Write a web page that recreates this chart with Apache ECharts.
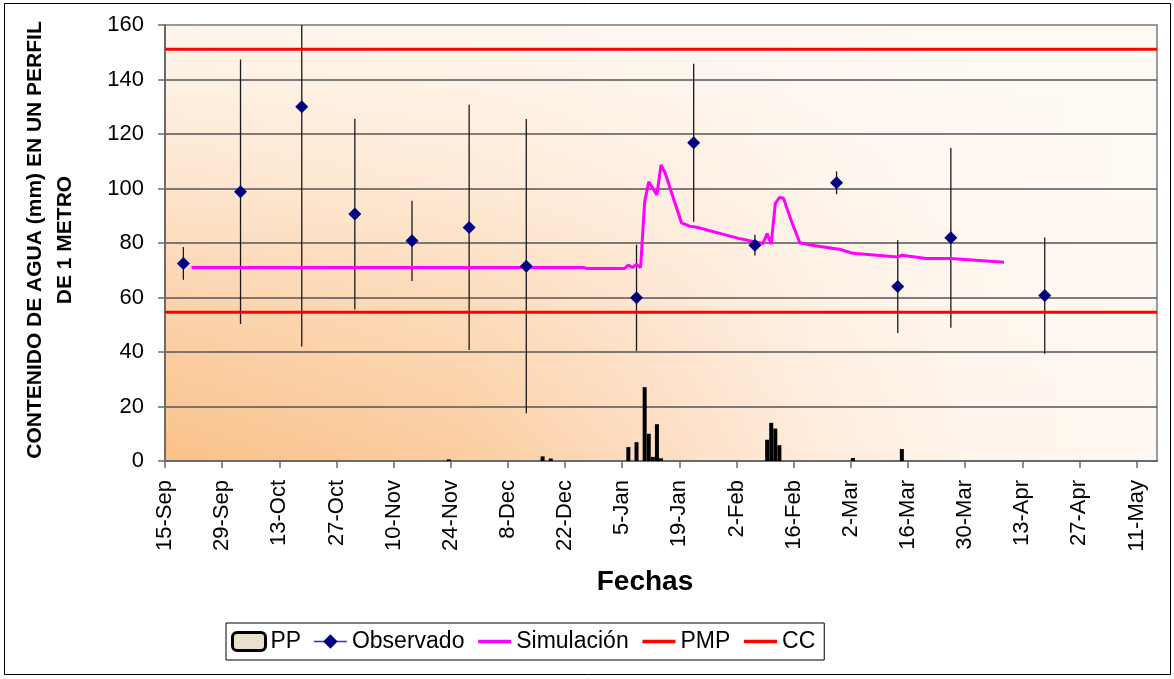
<!DOCTYPE html>
<html>
<head>
<meta charset="utf-8">
<script src="https://cdn.jsdelivr.net/npm/echarts@6/dist/echarts.min.js"></script>
<style>
  html, body { margin: 0; padding: 0; background: #fff; }
  #chart { width: 1174px; height: 679px; }
</style>
</head>
<body>
<div id="chart"></div>
<script>
// ---------------- DATA ----------------
const axisStart = '2006-09-15';
const axisEnd = '2007-05-16';
const tickStepDays = 14;
const tickLabels = ['15-Sep','29-Sep','13-Oct','27-Oct','10-Nov','24-Nov','8-Dec','22-Dec','5-Jan','19-Jan','2-Feb','16-Feb','2-Mar','16-Mar','30-Mar','13-Apr','27-Apr','11-May'];
const yTicks = [0, 20, 40, 60, 80, 100, 120, 140, 160];

const ppDates = ['2006-11-23','2006-12-16','2006-12-18','2007-01-06','2007-01-08','2007-01-10','2007-01-11','2007-01-12','2007-01-13','2007-01-14','2007-02-09','2007-02-10','2007-02-11','2007-02-12','2007-03-02','2007-03-14'];
const ppValues = [0.6, 1.7, 0.9, 5.1, 6.9, 27.1, 10.0, 1.5, 13.5, 1.0, 7.8, 14.0, 11.9, 5.8, 1.1, 4.4];

const obsDates = ['2006-09-19','2006-10-03','2006-10-18','2006-10-31','2006-11-14','2006-11-28','2006-12-12','2007-01-08','2007-01-22','2007-02-06','2007-02-26','2007-03-13','2007-03-26','2007-04-18'];
const obsValues = [72.5, 98.8, 130.0, 90.6, 80.8, 85.7, 71.5, 59.9, 116.8, 79.2, 102.1, 64.0, 81.9, 60.7];
const obsError = [6.0, 48.5, 88.0, 35.0, 14.7, 45.0, 54.0, 19.5, 29.0, 3.8, 4.2, 17.0, 33.0, 21.3];

const simDates = ['2006-09-21','2006-12-26','2006-12-27','2007-01-05','2007-01-06','2007-01-07','2007-01-08','2007-01-09','2007-01-10','2007-01-11','2007-01-13','2007-01-14','2007-01-15','2007-01-19','2007-01-21','2007-01-23','2007-01-30','2007-02-02','2007-02-08','2007-02-09','2007-02-10','2007-02-11','2007-02-12','2007-02-13','2007-02-15','2007-02-17','2007-02-20','2007-02-27','2007-03-02','2007-03-13','2007-03-14','2007-03-20','2007-03-26','2007-04-01','2007-04-08'];
const simValues = [71.0, 71.0, 70.6, 70.6, 71.9, 71.0, 72.1, 71.0, 95.1, 102.5, 97.6, 108.6, 105.8, 87.4, 86.2, 85.7, 82.9, 81.7, 79.8, 83.5, 79.6, 94.5, 96.7, 96.4, 87.8, 80.1, 79.2, 77.6, 76.2, 74.9, 75.5, 74.3, 74.3, 73.7, 72.9];

const pmpValue = 54.6;
const ccValue = 151.1;

// ---------------- HELPERS ----------------
function dayOf(s) {
  const a = s.split('-').map(Number);
  const b = axisStart.split('-').map(Number);
  return (Date.UTC(a[0], a[1] - 1, a[2]) - Date.UTC(b[0], b[1] - 1, b[2])) / 86400000;
}
const DAY_CENTER = 0.5; // each day's mark sits in the middle of its day
const xOf = d => dayOf(d) + DAY_CENTER;
const xMax = dayOf(axisEnd);
const tickValues = tickLabels.map((_, i) => i * tickStepDays);

const FONT = '"Liberation Sans", Arial, Helvetica, sans-serif';
const GRID = { left: 165, top: 25, right: 17, bottom: 218 };
const W = 1174, H = 679;
const PW = W - GRID.left - GRID.right, PH = H - GRID.top - GRID.bottom;

const chart = echarts.init(document.getElementById('chart'), null, { renderer: 'canvas' });

const option = {
  animation: false,
  backgroundColor: '#ffffff',
  textStyle: { fontFamily: FONT },
  grid: { left: GRID.left, top: GRID.top, right: GRID.right, bottom: GRID.bottom, show: true, borderColor: '#9a9a9a', borderWidth: 2, backgroundColor: 'transparent' },
  graphic: [
    { type: 'rect', z: -10, silent: true, shape: { x: GRID.left, y: GRID.top, width: PW, height: PH },
      style: { fill: new echarts.graphic.LinearGradient(0, 0, 1, 0, [
        { offset: 0, color: '#F9C18A' },
        { offset: 0.3, color: '#FBCDA0' },
        { offset: 0.5, color: '#FDDDC2' },
        { offset: 0.65, color: '#FEEBDB' },
        { offset: 0.8, color: '#FFF4EA' },
        { offset: 1, color: '#FFF8F2' }
      ]) } },
    { type: 'rect', z: -9, silent: true, shape: { x: GRID.left, y: GRID.top, width: PW, height: PH },
      style: { fill: new echarts.graphic.LinearGradient(0, 1, 0, 0, [
        { offset: 0, color: 'rgba(255,250,245,0)' },
        { offset: 0.35, color: 'rgba(255,250,245,0.3)' },
        { offset: 0.65, color: 'rgba(255,250,245,0.65)' },
        { offset: 1, color: 'rgba(255,250,245,0.92)' }
      ]) } },
    { type: 'rect', z: 100, silent: true, shape: { x: 4.5, y: 3.5, width: 1166, height: 671 },
      style: { fill: 'none', stroke: '#000', lineWidth: 1 } },
    { type: 'text', z: 100, silent: true, x: 50, y: 240, rotation: Math.PI / 2,
      style: { text: 'CONTENIDO DE AGUA (mm) EN UN PERFIL\nDE 1 METRO', font: 'bold 21px ' + FONT, fill: '#000',
               textAlign: 'center', textVerticalAlign: 'middle', lineHeight: 30 } },
    { type: 'text', z: 100, silent: true, x: 645, y: 582,
      style: { text: 'Fechas', font: 'bold 28px ' + FONT, fill: '#000', textAlign: 'center', textVerticalAlign: 'middle' } }
  ],
  legend: {
    left: 226, top: 623, orient: 'horizontal',
    itemWidth: 33, itemHeight: 18, itemGap: 12,
    padding: [7, 9, 7, 5],
    borderColor: '#000', borderWidth: 1, backgroundColor: '#fff',
    textStyle: { fontFamily: FONT, fontSize: 23, color: '#000' },
    data: [
      { name: 'PP', icon: 'roundRect', itemStyle: { color: '#E9E0D0', borderColor: '#000', borderWidth: 3 } },
      { name: 'Observado', itemStyle: { color: '#000080' }, lineStyle: { color: '#3333AA', width: 1.5, opacity: 1 } },
      { name: 'Simulación', itemStyle: { opacity: 0 }, lineStyle: { width: 3.5 } },
      { name: 'PMP', itemStyle: { opacity: 0 }, lineStyle: { width: 3.5 } },
      { name: 'CC', itemStyle: { opacity: 0 }, lineStyle: { width: 3.5 } }
    ]
  },
  xAxis: {
    type: 'value', min: 0, max: xMax,
    axisLine: { show: true, onZero: false, lineStyle: { color: '#6a6a6a', width: 2 } },
    axisTick: { show: true, length: 7, customValues: tickValues, lineStyle: { color: '#6a6a6a', width: 1.5 } },
    axisLabel: { customValues: tickValues, rotate: 90, margin: 19, fontSize: 22, color: '#000', fontFamily: FONT,
                 formatter: v => tickLabels[Math.round(v / tickStepDays)] || '' },
    splitLine: { show: false }
  },
  yAxis: {
    type: 'value', min: yTicks[0], max: yTicks[yTicks.length - 1], interval: yTicks[1] - yTicks[0],
    axisLine: { show: true, lineStyle: { color: '#6a6a6a', width: 2 } },
    axisTick: { show: true, length: 7, lineStyle: { color: '#6a6a6a', width: 1.5 } },
    axisLabel: { margin: 21, fontSize: 22, color: '#000', fontFamily: FONT },
    splitLine: { show: true, showMaxLine: false, lineStyle: { color: '#555', width: 1.5 } }
  },
  series: [
    {
      name: 'errbar', type: 'custom', z: 2, silent: true, clip: true,
      data: obsDates.map((d, i) => [xOf(d), obsValues[i] - obsError[i], obsValues[i] + obsError[i]]),
      encode: { x: 0, y: [1, 2] },
      renderItem: (params, api) => {
        const lo = api.coord([api.value(0), api.value(1)]);
        const hi = api.coord([api.value(0), api.value(2)]);
        return { type: 'line', shape: { x1: lo[0], y1: lo[1], x2: hi[0], y2: hi[1] }, style: { stroke: '#1a1a1a', lineWidth: 1.3 } };
      }
    },
    {
      name: 'PP', type: 'bar', z: 2, barWidth: 4,
      itemStyle: { color: '#000' },
      data: ppDates.map((d, i) => [xOf(d), ppValues[i]])
    },
    {
      name: 'Simulación', type: 'line', z: 3, symbol: 'none', showSymbol: false,
      lineStyle: { color: '#FF00FF', width: 3 }, itemStyle: { color: '#FF00FF' },
      data: simDates.map((d, i) => [xOf(d), simValues[i]])
    },
    {
      name: 'PMP', type: 'line', z: 3, symbol: 'none', showSymbol: false,
      lineStyle: { color: '#FF0000', width: 3 }, itemStyle: { color: '#FF0000' },
      data: [[0, pmpValue], [xMax, pmpValue]]
    },
    {
      name: 'CC', type: 'line', z: 3, symbol: 'none', showSymbol: false,
      lineStyle: { color: '#FF0000', width: 3 }, itemStyle: { color: '#FF0000' },
      data: [[0, ccValue], [xMax, ccValue]]
    },
    {
      name: 'Observado', type: 'line', z: 5, symbol: 'diamond', symbolSize: 13, showSymbol: true,
      lineStyle: { opacity: 0, color: '#000080', width: 1.5 }, itemStyle: { color: '#000080' },
      data: obsDates.map((d, i) => [xOf(d), obsValues[i]])
    }
  ]
};
chart.setOption(option);
</script>
</body>
</html>
